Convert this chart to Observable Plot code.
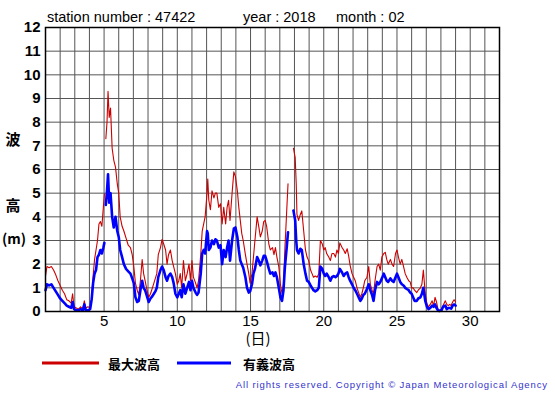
<!DOCTYPE html>
<html><head><meta charset="utf-8">
<script src="https://cdn.jsdelivr.net/npm/d3@7"></script>
<script src="https://cdn.jsdelivr.net/npm/@observablehq/plot@0.6"></script>
<style>
html,body{margin:0;padding:0;background:#fff;}
#chart{width:555px;height:395px;}
</style>
</head><body><div id="chart"></div>
<script>
// time in days of month (null rows mark missing data)
const day = [1.0,1.1,1.25,1.4,1.55,1.7,1.85,2.0,2.15,2.3,2.45,2.6,2.75,2.85,2.95,3.1,3.25,3.4,3.55,3.65,3.75,3.9,4.05,4.15,4.25,4.35,4.45,4.55,4.65,4.75,4.85,4.95,5.02,5.07,
5.12,5.2,5.27,5.35,5.44,5.55,5.66,5.78,5.9,6.0,6.1,6.23,6.35,6.5,6.65,6.8,6.92,7.03,7.14,7.26,7.37,7.48,7.6,7.7,7.8,7.9,8.05,8.17,8.3,8.4,8.5,8.6,8.7,8.85,8.96,9.07,9.2,9.3,9.4,9.53,9.65,9.75,9.87,
10.0,10.1,10.2,10.3,10.42,10.55,10.67,10.8,10.9,11.0,11.1,11.25,11.35,11.45,11.6,11.7,11.8,11.9,12.03,12.08,12.15,12.26,12.37,12.5,12.6,12.7,12.83,12.95,13.06,13.17,13.3,13.4,13.5,13.6,13.74,13.86,13.97,
14.1,14.2,14.3,14.4,14.5,14.65,14.76,14.88,14.97,15.1,15.2,15.3,15.45,15.56,15.67,15.8,15.9,16.0,16.1,16.25,16.35,16.5,16.6,16.7,16.8,16.93,17.04,17.15,17.25,17.35,17.47,17.56,17.75,
17.93,18.05,18.12,18.17,18.28,18.4,18.5,18.63,18.75,18.86,18.97,19.1,19.2,19.3,19.42,19.55,19.66,19.77,19.9,
20.0,20.1,20.2,20.34,20.45,20.56,20.68,20.8,20.9,21.0,21.1,21.25,21.36,21.47,21.6,21.7,21.8,21.93,22.04,22.15,22.27,22.38,22.5,22.6,22.7,22.8,22.95,23.07,23.18,23.3,23.4,23.5,23.64,23.75,23.86,23.97,
24.1,24.2,24.3,24.4,24.55,24.66,24.77,24.9,25.0,25.1,25.22,25.33,25.45,25.56,25.67,25.8,25.9,26.0,26.1,26.2,26.35,26.45,26.6,26.7,26.8,26.93,27.05,27.15,27.27,27.4,27.5,27.6,27.7,27.8,27.9,28.04,28.15,28.3,28.4,28.5,28.6,28.7,28.8,28.9,29.0];

// 最大波高 (maximum wave height, m)
const maxWave = [1.5,1.9,1.85,1.9,1.75,1.55,1.3,1.1,0.9,0.75,0.5,0.45,0.35,0.75,0.2,0.15,0.1,0.2,0.1,0.45,0.15,0.2,0.15,0.6,1.5,2.2,2.6,3.0,3.7,3.8,3.6,4.4,4.97,null,
7.3,8.0,9.3,8.2,8.6,6.9,6.4,6.1,5.4,5.0,4.0,3.6,3.4,3.1,2.8,2.7,2.4,1.9,1.2,0.9,0.7,1.3,2.2,1.6,1.3,1.0,0.6,0.75,1.0,1.2,1.4,1.6,2.4,2.7,3.05,2.85,2.6,2.0,2.4,2.6,2.15,1.9,1.6,
1.15,1.3,1.6,1.0,2.15,1.3,1.6,2.0,1.3,2.15,1.45,1.2,1.0,1.3,2.4,3.4,3.7,4.0,5.0,5.6,4.7,4.3,5.1,4.8,5.0,5.0,4.4,4.55,3.7,4.4,3.7,4.4,4.7,3.85,5.0,5.9,5.7,
5.1,4.4,3.85,3.3,3.0,2.4,2.0,1.6,1.2,1.6,2.3,3.0,4.0,3.6,3.15,3.4,3.8,3.85,3.6,2.85,2.6,2.7,2.4,2.7,2.3,1.9,1.15,0.75,1.15,2.7,4.25,5.4,null,
6.9,6.5,5.4,4.1,3.85,4.1,4.25,3.4,2.6,2.3,2.15,1.75,1.6,1.45,1.5,1.45,1.6,3.0,2.85,
2.6,2.7,2.45,2.3,2.15,2.45,2.45,2.3,2.6,2.45,2.9,2.7,2.6,2.45,2.65,2.35,1.95,1.6,1.45,1.3,1.0,0.8,0.6,0.75,1.0,1.3,1.45,1.9,1.15,0.9,0.75,1.3,1.9,2.0,1.75,2.3,
2.45,2.5,2.2,2.0,2.2,2.0,1.9,2.45,2.6,2.3,2.0,2.2,1.9,1.6,1.45,1.3,1.25,1.0,1.0,0.9,0.8,0.9,1.0,1.15,1.75,0.75,0.3,0.2,0.3,0.45,0.25,0.6,0.4,0.1,0.05,0.1,0.25,0.45,0.3,0.25,0.3,0.25,0.4,0.5,0.4];

// 有義波高 (significant wave height, m)
const sigWave = [0.9,1.15,1.1,1.15,1.0,0.85,0.7,0.55,0.45,0.35,0.25,0.2,0.15,0.4,0.1,0.05,0.05,0.1,0.05,0.3,0.05,0.05,0.1,0.5,1.2,1.6,1.75,2.3,2.4,2.6,2.45,2.7,2.9,null,
4.5,5.1,5.8,4.6,5.0,4.0,3.55,4.0,3.4,3.15,2.6,2.3,2.0,1.8,1.7,1.6,1.4,1.2,0.6,0.4,0.45,0.9,1.3,1.0,0.9,0.7,0.4,0.55,0.65,0.75,0.85,1.0,1.45,1.75,1.9,1.75,1.45,1.3,1.5,1.6,1.45,1.2,0.75,
0.6,0.75,0.9,0.6,1.15,0.75,1.0,1.25,0.9,1.3,1.0,0.8,0.7,0.8,1.6,2.45,2.6,2.45,3.4,3.3,2.6,2.7,3.0,2.85,3.05,3.0,2.7,2.8,2.0,2.6,2.3,2.7,3.0,2.15,3.0,3.5,3.55,
3.15,2.6,2.15,2.0,1.85,1.45,1.0,0.8,0.85,1.15,1.6,1.8,2.3,2.15,1.95,2.15,2.35,2.35,2.15,1.8,1.6,1.65,1.5,1.65,1.45,1.0,0.6,0.45,0.9,1.9,2.7,3.35,null,
4.27,3.85,3.0,2.6,2.45,2.65,2.6,2.0,1.6,1.3,1.25,1.1,1.0,0.9,0.85,0.9,1.0,1.9,1.8,
1.6,1.5,1.6,1.45,1.3,1.45,1.5,1.45,1.5,1.6,1.8,1.65,1.5,1.6,1.65,1.45,1.3,1.15,1.0,0.9,0.75,0.6,0.45,0.55,0.7,0.75,0.95,1.15,0.9,0.7,0.45,0.9,1.25,1.15,1.25,1.4,
1.6,1.45,1.3,1.25,1.4,1.3,1.25,1.45,1.6,1.45,1.25,1.15,1.1,1.0,0.95,0.9,0.8,0.75,0.6,0.45,0.45,0.55,0.6,0.75,1.0,0.45,0.2,0.1,0.15,0.25,0.2,0.3,0.15,0.05,0.02,0.05,0.2,0.25,0.1,0.15,0.15,0.12,0.25,0.3,0.25];

const xTicks = [5,10,15,20,25,30];
const yTicks = [0,1,2,3,4,5,6,7,8,9,10,11,12];
const xGrid = d3.range(1, 33);

const rows = day.map((d, i) => ({day: d, max: maxWave[i], sig: sigWave[i]}));

const plot = Plot.plot({
  width: 555, height: 395,
  marginLeft: 45, marginRight: 56, marginTop: 27, marginBottom: 84,
  style: {fontFamily: "'Liberation Sans', Arial, sans-serif", background: "#fff", color: "#000"},
  x: {domain: [1, 32]},
  y: {domain: [0, 12]},
  marks: [
    Plot.gridX(xGrid, {stroke: "#555", strokeOpacity: 1, strokeWidth: 1}),
    Plot.gridY(yTicks, {stroke: "#555", strokeOpacity: 1, strokeWidth: 1}),
    Plot.line(rows, {x: "day", y: "max", stroke: "#cc0000", strokeWidth: 1.1}),
    Plot.line(rows, {x: "day", y: "sig", stroke: "#0000ff", strokeWidth: 2.6}),
    Plot.frame({stroke: "#000", strokeWidth: 1.5}),
    Plot.axisX(xTicks, {tickSize: 0, tickPadding: 4, fontSize: 15, label: null, fill: "#000"}),
    Plot.axisY(yTicks, {tickSize: 0, tickPadding: 5, fontSize: 15, fontWeight: "bold", label: null, fill: "#000"})
  ]
});

const svg = d3.select(plot);
const cjk = "'Noto Sans CJK JP', sans-serif";
const add = (x, y, t, o = {}) => {
  const e = svg.append("text").attr("x", x).attr("y", y).text(t)
    .attr("font-size", o.size || 14).attr("fill", o.fill || "#000")
    .attr("font-family", o.font || "'Liberation Sans', Arial, sans-serif")
    .attr("text-anchor", o.anchor || "start");
  if (o.weight) e.attr("font-weight", o.weight);
  if (o.ls) e.attr("letter-spacing", o.ls);
  return e;
};
add(47, 22, "station number : 47422", {size: 14.5});
add(243, 22, "year : 2018", {size: 14.5});
add(336, 22, "month : 02", {size: 14.5});
add(13, 145, "波", {size: 15, font: cjk, anchor: "middle", weight: "bold"});
add(13, 211, "高", {size: 15, font: cjk, anchor: "middle", weight: "bold"});
add(14, 244, "(m)", {size: 14, font: cjk, anchor: "middle", weight: "bold"});
add(258, 344, "(日)", {size: 15, font: cjk, anchor: "middle"});
// legend
svg.append("line").attr("x1", 42).attr("x2", 99).attr("y1", 363).attr("y2", 363).attr("stroke", "#cc0000").attr("stroke-width", 3);
add(108, 369, "最大波高", {size: 13, font: cjk, weight: "bold"});
svg.append("line").attr("x1", 177).attr("x2", 231).attr("y1", 363).attr("y2", 363).attr("stroke", "#0000ff").attr("stroke-width", 3);
add(243, 369, "有義波高", {size: 13, font: cjk, weight: "bold"});
add(548, 388, "All rights reserved. Copyright © Japan Meteorological Agency", {size: 9.5, fill: "#3333cc", anchor: "end", ls: 0.9});

document.getElementById("chart").appendChild(plot);
</script>
</body></html>
